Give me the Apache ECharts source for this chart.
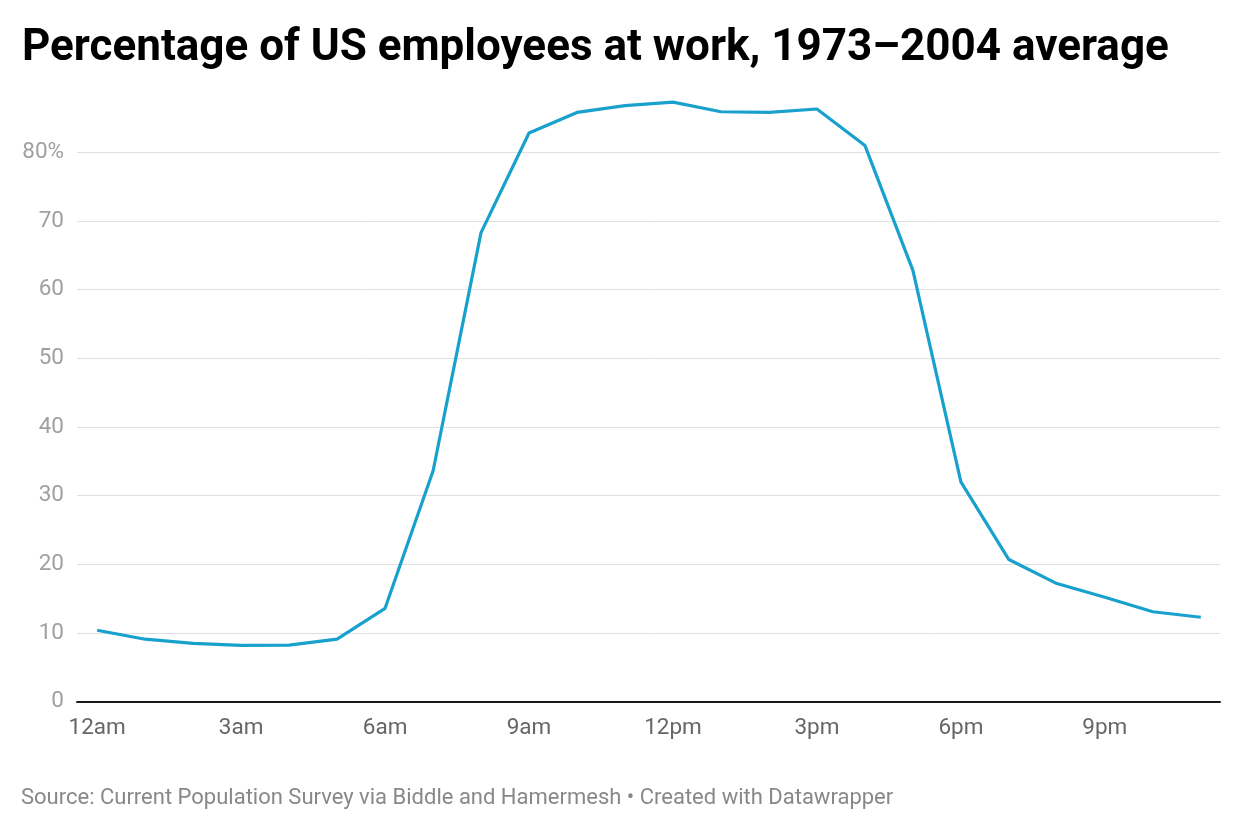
<!DOCTYPE html>
<html>
<head>
<meta charset="utf-8">
<script src="https://cdn.jsdelivr.net/npm/echarts@6/dist/echarts.min.js"></script>
<style>
html,body{margin:0;padding:0;background:#fff;}
#chart{width:1240px;height:828px;}
</style>
</head>
<body>
<div id="chart"></div>
<script>
const hours = [0,1,2,3,4,5,6,7,8,9,10,11,12,13,14,15,16,17,18,19,20,21,22,23];
const atWork = [10.4,9.1,8.5,8.2,8.25,9.1,13.6,33.6,68.3,82.8,85.8,86.8,87.3,85.9,85.8,86.3,81.0,62.8,32.0,20.7,17.2,15.2,13.1,12.3];
const xTickHours = [0,3,6,9,12,15,18,21];
const xTickLabels = ['12am','3am','6am','9am','12pm','3pm','6pm','9pm'];
const yTicks = [0,10,20,30,40,50,60,70,80];

const chart = echarts.init(document.getElementById('chart'));
const gridColors = yTicks.map(()=> '#e0e0e0').concat(['rgba(0,0,0,0)']);
chart.setOption({
  animation:false,
  textStyle:{fontFamily:'Roboto'},
  title:[{
    text:'Percentage of US employees at work, 1973\u20132004 average',
    left:17, top:22,
    textStyle:{fontFamily:'Roboto',fontWeight:'bold',fontSize:44,color:'#000'}
  },{
    text:'Source: Current Population Survey via Biddle and Hamermesh \u2022 Created with Datawrapper',
    left:16, top:782,
    textStyle:{fontFamily:'Roboto',fontWeight:'normal',fontSize:22,color:'#888'}
  }],
  grid:{left:77,right:20,top:83.6,bottom:126.3},
  xAxis:{
    type:'value', min:-0.42, max:23.4,
    axisLine:{show:true,onZero:false,lineStyle:{color:'#1a1a1a',width:2}},
    axisTick:{show:false},
    splitLine:{show:false},
    axisLabel:{
      customValues:xTickHours,
      formatter:(v)=>{const i=xTickHours.indexOf(v);return i>=0?xTickLabels[i]:'';},
      color:'#666', fontSize:22.5, margin:15
    }
  },
  yAxis:{
    type:'value', min:0, max:90, interval:10,
    axisLine:{show:false}, axisTick:{show:false},
    splitLine:{show:true,lineStyle:{color:gridColors,width:1}},
    axisLabel:{
      formatter:(v)=> v===80?'80%':(v>80?'':String(v)),
      color:'#a0a0a0', fontSize:22.5, margin:13
    }
  },
  series:[{
    type:'line',
    data:hours.map((h,i)=>[h,atWork[i]]),
    showSymbol:false, symbol:'none',
    lineStyle:{color:'#18a1cd',width:3.2},
    z:3
  }]
});
</script>
</body>
</html>
